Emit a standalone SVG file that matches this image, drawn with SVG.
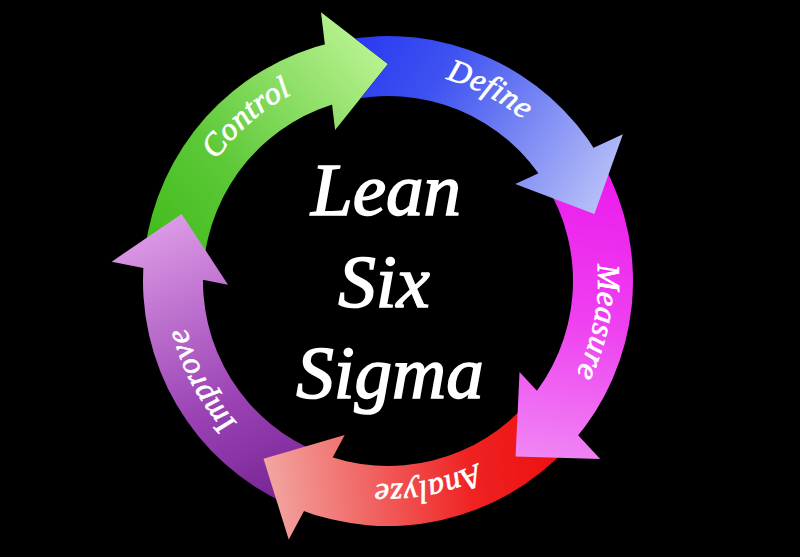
<svg xmlns="http://www.w3.org/2000/svg" width="800" height="557" viewBox="0 0 800 557">
  <style>
    .lbl { font-family: "Liberation Serif", "Times New Roman", serif; font-style: italic; font-size: 32px; fill: #ffffff; stroke: #ffffff; stroke-width: 0.7px; letter-spacing: 0.5px; }
    .title { font-family: "Liberation Serif", "Times New Roman", serif; font-style: italic; font-size: 75px; fill: #ffffff; stroke: #ffffff; stroke-width: 1.6px; text-anchor: middle; }
  </style>
  <defs>
    <linearGradient id="gC" gradientUnits="userSpaceOnUse" x1="170" y1="262" x2="388" y2="64">
      <stop offset="0" stop-color="#42bc1c"/>
      <stop offset="0.35" stop-color="#5cc836"/>
      <stop offset="1" stop-color="#b8f290"/>
    </linearGradient>
    <linearGradient id="gD" gradientUnits="userSpaceOnUse" x1="345" y1="60" x2="596" y2="214">
      <stop offset="0" stop-color="#2a3af0"/>
      <stop offset="0.3" stop-color="#3e52f0"/>
      <stop offset="1" stop-color="#b8c0f8"/>
    </linearGradient>
    <linearGradient id="gM" gradientUnits="userSpaceOnUse" x1="590" y1="175" x2="540" y2="460">
      <stop offset="0" stop-color="#ec1cec"/>
      <stop offset="0.5" stop-color="#ee40f0"/>
      <stop offset="1" stop-color="#f086f4"/>
    </linearGradient>
    <linearGradient id="gA" gradientUnits="userSpaceOnUse" x1="555" y1="430" x2="264" y2="459">
      <stop offset="0" stop-color="#ee1010"/>
      <stop offset="0.3" stop-color="#ef2222"/>
      <stop offset="1" stop-color="#f2a6a2"/>
    </linearGradient>
    <linearGradient id="gI" gradientUnits="userSpaceOnUse" x1="300" y1="485" x2="182" y2="214">
      <stop offset="0" stop-color="#7a2696"/>
      <stop offset="0.35" stop-color="#9a42b4"/>
      <stop offset="1" stop-color="#dc9ae6"/>
    </linearGradient>
    <clipPath id="clipD">
      <path clip-rule="evenodd" d="M0 0H800V557H0Z M320.99 12.23 L388 64 L335.12 129.99 Z"/>
    </clipPath>
    <path id="pC" d="M181.86 321.07 A210 210 0 0 1 456.37 82.44"/>
    <path id="pD" d="M276.72 102.91 A210 210 0 0 1 597.87 273.67"/>
    <path id="pM" d="M525.77 122.51 A210 210 0 0 1 456.37 479.56"/>
    <path id="pA" d="M579.94 347.09 A203 203 0 0 1 234.79 414.18"/>
    <path id="pI" d="M380.78 487.87 A207 207 0 0 1 212.45 171.31"/>
  </defs>

  <rect x="0" y="0" width="800" height="557" fill="#000000"/>

  <g id="connectors"></g>

  <g id="control">
    <path fill="url(#gC)" d="M144.83 251.14 A245 245 0 0 1 332.89 42.28 L346.38 100.74 A185 185 0 0 0 203.45 268.09 Z"/>
    <path fill="url(#gC)" d="M320.99 12.23 L388 64 L335.12 129.99 Z"/>
    <text class="lbl"><textPath href="#pC" startOffset="50%" text-anchor="middle">Control</textPath></text>
  </g>

  <g id="improve">
    <path fill="url(#gI)" d="M288.35 504.82 A245 245 0 0 1 143.93 259.65 L203.70 264.88 A185 185 0 0 0 321.70 453.71 Z"/>
    <path fill="url(#gI)" d="M111.68 261.68 L181.62 213.94 L228.04 284.63 Z"/>
    <text class="lbl"><textPath href="#pI" startOffset="50%" text-anchor="middle">Improve</textPath></text>
  </g>

  <g id="analyze">
    <path fill="url(#gA)" d="M567.18 448.09 A245 245 0 0 1 296.22 508.16 L318.70 452.53 A185 185 0 0 0 529.72 399.92 Z"/>
    <path fill="url(#gA)" d="M288.73 539.60 L263.53 458.76 L344.70 435.03 Z"/>
    <text class="lbl"><textPath href="#pA" startOffset="50%" text-anchor="middle">Analyze</textPath></text>
  </g>

  <g id="measure">
    <path fill="url(#gM)" d="M602.28 162.22 A245 245 0 0 1 572.90 441.73 L527.62 402.37 A185 185 0 0 0 544.89 182.96 Z"/>
    <path fill="url(#gM)" d="M600.19 459.05 L515.55 456.56 L519.54 372.08 Z"/>
    <text class="lbl"><textPath href="#pM" startOffset="50%" text-anchor="middle">Measure</textPath></text>
  </g>

  <g id="define">
    <path fill="url(#gD)" clip-path="url(#clipD)" d="M341.25 40.50 A245 245 0 0 1 598.01 154.82 L546.58 185.72 A185 185 0 0 0 343.24 101.49 Z"/>
    <path fill="url(#gD)" d="M622.91 134.21 L594.38 213.94 L515.22 183.97 Z"/>
    <text class="lbl"><textPath href="#pD" startOffset="50%" text-anchor="middle">Define</textPath></text>
  </g>

  <g id="title">
    <text class="title" x="386" y="215">Lean</text>
    <text class="title" x="384" y="307">Six</text>
    <text class="title" x="390" y="398">Sigma</text>
  </g>
</svg>
